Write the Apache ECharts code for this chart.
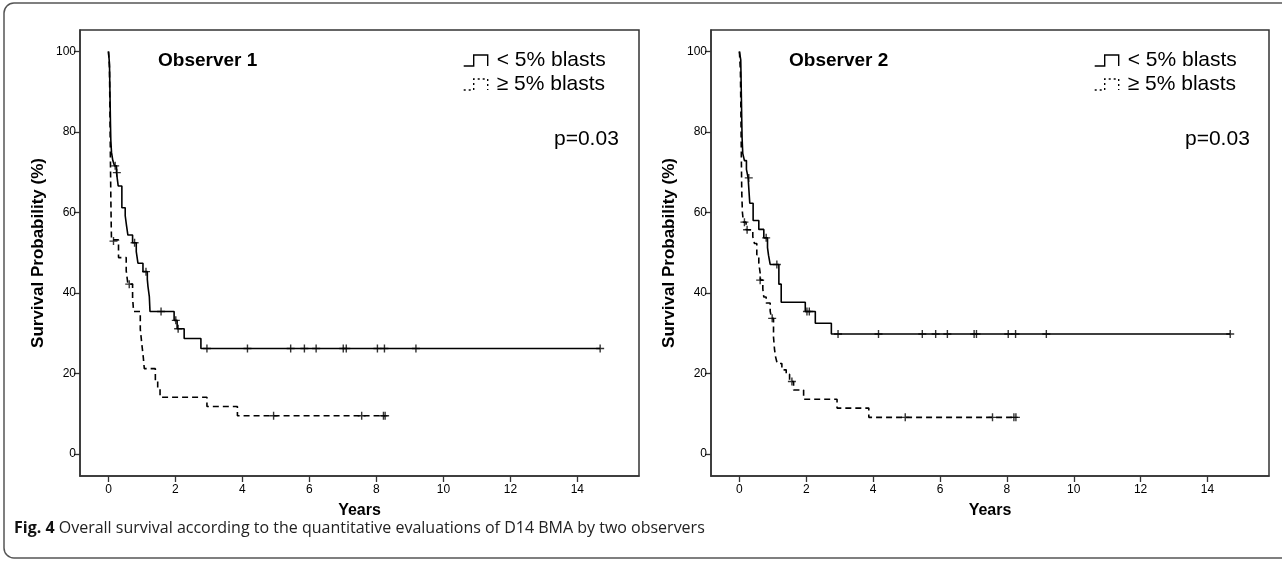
<!DOCTYPE html>
<html>
<head>
<meta charset="utf-8">
<script src="https://cdn.jsdelivr.net/npm/echarts@6/dist/echarts.min.js"></script>
<style>
  html, body { margin: 0; padding: 0; background: #fff; }
  #chart { width: 1282px; height: 562px; }
</style>
</head>
<body>
<div id="chart"></div>
<script>
'use strict';

// tick labels
var yearTicks = [0, 2, 4, 6, 8, 10, 12, 14];
var probTicks = [0, 20, 40, 60, 80, 100];

var groupNames = ['< 5% blasts', '≥ 5% blasts'];
var panelTitles = ['Observer 1', 'Observer 2'];
var pValues = ['p=0.03', 'p=0.03'];

// Observer 1, step curves [years, survival %]
var obs1Low = [[0, 100], [0.03, 97], [0.04, 92], [0.05, 87], [0.06, 82], [0.07, 78], [0.09, 75],
    [0.13, 72.9], [0.18, 71.6], [0.24, 69.9], [0.29, 66.6], [0.40, 61.2], [0.50, 59.2], [0.54, 56.7],
    [0.58, 54.4], [0.72, 52.5], [0.83, 50.3], [0.88, 47.4], [1.03, 45.3], [1.16, 43.4], [1.18, 41.6],
    [1.22, 39.1], [1.24, 35.4], [1.96, 33.2], [2.05, 31.1], [2.26, 28.7], [2.76, 26.2], [14.68, 26.2]];
var obs1LowCensor = [[0.2, 71.6], [0.25, 69.9], [0.78, 52.5], [1.12, 45.3], [1.57, 35.4], [2.01, 33.2],
    [2.08, 31.1], [2.94, 26.2], [4.15, 26.2], [5.44, 26.2], [5.85, 26.2], [6.2, 26.2], [7.01, 26.2],
    [7.1, 26.2], [8.03, 26.2], [8.24, 26.2], [9.18, 26.2], [14.68, 26.2]];
var obs1High = [[0, 100], [0.03, 96], [0.04, 88], [0.05, 80], [0.06, 72], [0.07, 64], [0.08, 58],
    [0.09, 53.2], [0.30, 48.8], [0.53, 45.5], [0.58, 42.2], [0.72, 38.9], [0.75, 35.4], [0.95, 31],
    [1.0, 27], [1.04, 24], [1.07, 21.2], [1.40, 18.4], [1.47, 16.3], [1.54, 14.1], [2.94, 11.8],
    [3.85, 9.5], [8.26, 9.5]];
var obs1HighCensor = [[0.15, 52.9], [0.62, 42.2], [4.93, 9.5], [7.56, 9.5], [8.21, 9.5], [8.26, 9.5]];

// Observer 2
var obs2Low = [[0, 100], [0.04, 97.9], [0.05, 93], [0.06, 88], [0.07, 83], [0.08, 78.5], [0.10, 74.7],
    [0.15, 72.9], [0.21, 70.7], [0.26, 68.6], [0.31, 62.3], [0.41, 58], [0.58, 55.8], [0.73, 53.7],
    [0.84, 51.3], [0.87, 49.4], [0.92, 47.1], [1.18, 42.2], [1.25, 37.7], [1.97, 35.4], [2.27, 32.5],
    [2.75, 29.8], [14.68, 29.8]];
var obs2LowCensor = [[0.28, 68.6], [0.80, 53.7], [1.12, 47.1], [2.02, 35.4], [2.09, 35.4], [2.95, 29.8],
    [4.16, 29.8], [5.47, 29.8], [5.87, 29.8], [6.22, 29.8], [7.02, 29.8], [7.09, 29.8], [8.04, 29.8],
    [8.26, 29.8], [9.18, 29.8], [14.68, 29.8]];
var obs2High = [[0, 100], [0.03, 95], [0.04, 88], [0.05, 80], [0.06, 72], [0.07, 65], [0.09, 60],
    [0.12, 57.6], [0.20, 55.7], [0.40, 54], [0.45, 52.3], [0.52, 49.5], [0.58, 47.4], [0.62, 45],
    [0.63, 43.2], [0.70, 41], [0.73, 39], [0.80, 37.5], [0.92, 35.5], [0.96, 33.7], [1.02, 29],
    [1.05, 26], [1.08, 24.2], [1.13, 22.5], [1.27, 20.9], [1.40, 19.8], [1.50, 18], [1.62, 15.9],
    [1.92, 13.6], [2.92, 11.4], [3.87, 9.1], [8.27, 9.1]];
var obs2HighCensor = [[0.15, 57.6], [0.23, 55.7], [0.62, 43.2], [0.98, 33.7], [1.57, 18], [4.96, 9.1],
    [7.57, 9.1], [8.21, 9.1], [8.27, 9.1]];

var FONT = "'Liberation Sans', Arial, sans-serif";
var NARROW = "'Liberation Sans Narrow', 'Liberation Sans', Arial, sans-serif";
var frameColor = '#333';
var plusIcon = 'path://M-0.7,-4H0.7V-0.7H4V0.7H0.7V4H-0.7V0.7H-4V-0.7H-0.7Z';
var solidIcon = 'path://M0,11H10V0H24V11';
var dashIcon = 'path://M0,11H10V0H24V11';

var chart = echarts.init(document.getElementById('chart'));

var grids = [
    {left: 80, top: 30, width: 559, height: 446},
    {left: 711, top: 30, width: 558, height: 446}
];

function makeXAxis(i) {
    return {
        type: 'value', gridIndex: i, min: -0.85, max: 15.84,
        axisLine: {show: true, onZero: false, lineStyle: {color: frameColor, width: 1.5}},
        axisTick: {show: true, customValues: yearTicks, length: 6, lineStyle: {color: frameColor, width: 1.3}},
        axisLabel: {customValues: yearTicks, fontSize: 12, margin: 8, color: '#000', fontFamily: NARROW},
        splitLine: {show: false},
        name: 'Years', nameLocation: 'middle', nameGap: 27,
        nameTextStyle: {fontSize: 16, fontWeight: 'bold', color: '#000', fontFamily: FONT}
    };
}

function makeYAxis(i) {
    return {
        type: 'value', gridIndex: i, min: -5.47, max: 105.35,
        axisLine: {show: true, onZero: false, lineStyle: {color: frameColor, width: 1.5}},
        axisTick: {show: true, customValues: probTicks, length: 6, lineStyle: {color: frameColor, width: 1.3}},
        axisLabel: {customValues: probTicks, fontSize: 12, margin: 4, color: '#000', fontFamily: NARROW},
        splitLine: {show: false},
        name: 'Survival Probability (%)', nameLocation: 'middle', nameGap: 33,
        nameTextStyle: {fontSize: 17, fontWeight: 'bold', color: '#000', fontFamily: FONT}
    };
}

function lineSeries(name, data, idx, dashed) {
    return {
        type: 'line', name: name, step: 'end', data: data,
        xAxisIndex: idx, yAxisIndex: idx,
        symbol: 'none', showSymbol: false, color: '#000',
        lineStyle: {color: '#000', width: 1.6, type: dashed ? [6, 4] : 'solid'},
        silent: true
    };
}

function censorSeries(name, data, idx) {
    return {
        type: 'scatter', name: name + ' censored', data: data,
        xAxisIndex: idx, yAxisIndex: idx,
        symbol: plusIcon, symbolSize: 8,
        itemStyle: {color: '#000'}, silent: true, z: 3
    };
}

function makeLegend(left) {
    return {
        orient: 'vertical', left: left, top: 50, padding: 0,
        itemWidth: 24, itemHeight: 11, itemGap: 3, selectedMode: false,
        textStyle: {fontSize: 21, color: '#000', fontFamily: FONT, padding: [0, 0, 0, 4]},
        data: [
            {name: groupNames[0], icon: solidIcon,
                itemStyle: {color: 'rgba(0,0,0,0)', borderColor: '#000', borderWidth: 1.4, borderType: 'solid'}},
            {name: groupNames[1], icon: dashIcon,
                itemStyle: {color: 'rgba(0,0,0,0)', borderColor: '#000', borderWidth: 1.4, borderType: [2, 3]}}
        ]
    };
}

function makeTitle(text, left, top, size, bold) {
    return {
        text: text, left: left, top: top, padding: 0,
        textStyle: {fontSize: size, fontWeight: bold ? 'bold' : 'normal', color: '#000', fontFamily: FONT}
    };
}

var option = {
    animation: false,
    backgroundColor: '#fff',
    textStyle: {fontFamily: FONT},
    title: [
        makeTitle(panelTitles[0], 158, 51, 19, true),
        makeTitle(panelTitles[1], 789, 51, 19, true),
        makeTitle(pValues[0], 554, 129, 21, false),
        makeTitle(pValues[1], 1185, 129, 21, false)
    ],
    legend: [makeLegend(463), makeLegend(1094)],
    grid: grids.map(function (g) {
        return Object.assign({show: true, borderColor: frameColor, borderWidth: 1.5, backgroundColor: '#fff'}, g);
    }),
    xAxis: [makeXAxis(0), makeXAxis(1)],
    yAxis: [makeYAxis(0), makeYAxis(1)],
    series: [
        lineSeries(groupNames[0], obs1Low, 0, false),
        lineSeries(groupNames[1], obs1High, 0, true),
        censorSeries(groupNames[0], obs1LowCensor, 0),
        censorSeries(groupNames[1], obs1HighCensor, 0),
        lineSeries(groupNames[0], obs2Low, 1, false),
        lineSeries(groupNames[1], obs2High, 1, true),
        censorSeries(groupNames[0], obs2LowCensor, 1),
        censorSeries(groupNames[1], obs2HighCensor, 1)
    ],
    graphic: [
        {
            type: 'rect', silent: true, z: -1,
            shape: {x: 4, y: 3, width: 1300, height: 555, r: 10},
            style: {fill: 'none', stroke: '#555', lineWidth: 1.5}
        },
        {
            type: 'text', left: 14, top: 520, silent: true,
            style: {
                text: '{b|Fig. 4} Overall survival according to the quantitative evaluations of D14 BMA by two observers',
                fontSize: 16, fontFamily: "'Open Sans', 'Noto Sans', sans-serif", fill: '#222',
                rich: {b: {fontSize: 16, fontWeight: 'bold', fontFamily: "'Open Sans', 'Noto Sans', sans-serif", fill: '#111'}}
            }
        }
    ]
};

chart.setOption(option);
</script>
</body>
</html>
